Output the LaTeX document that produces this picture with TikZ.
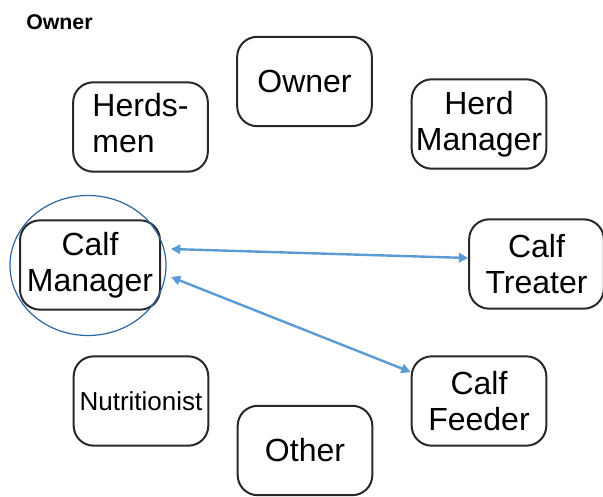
\documentclass[tikz,border=0pt]{standalone}
\usepackage{fontspec}
\setmainfont{Liberation Sans}
\usetikzlibrary{arrows.meta}
\definecolor{arrowblue}{RGB}{91,155,213}
\definecolor{ringblue}{RGB}{46,100,160}

\begin{document}
\begin{tikzpicture}[x=0.75pt,y=0.75pt,yscale=-1,xscale=1,
  role/.style={draw={rgb,255:red,40;green,40;blue,40},line width=1.5pt,rounded corners=15pt,
    minimum width=101pt,minimum height=67pt,inner sep=0.75pt,align=center,
    font=\fontsize{24}{27}\selectfont},
  link/.style={draw=arrowblue,line width=1.8pt,
    {Triangle[width=7pt,length=7pt]}-{Triangle[width=7pt,length=7pt]}}]
\useasboundingbox (0,0) rectangle (603,496);

% Text Node
\node (title) at (25,22) [anchor=west,inner sep=0.75pt,font=\fontsize{16}{18}\selectfont\bfseries] {Owner};

%Shape: Rounded Rect
\node (own) at (304.5,81.5) [role] {Owner};
%Shape: Rounded Rect
\node (hm) at (140.5,127) [role] {\begin{tabular}{@{}l@{}}Herds-\\men\end{tabular}};
%Shape: Rounded Rect
\node (hdm) at (479,124) [role] {Herd\\Manager};
%Shape: Rounded Rect
\node (cm) at (90,265) [role,minimum width=105pt] {Calf\\Manager};
%Shape: Rounded Rect
\node (ct) at (536.5,264) [role] {Calf\\Treater};
%Shape: Rounded Rect
\node (nut) at (141,401) [role,font=\fontsize{19.5}{22}\selectfont] {Nutritionist};
%Shape: Rounded Rect
\node (oth) at (305,450.5) [role] {Other};
%Shape: Rounded Rect
\node (cf) at (479,401) [role] {Calf\\Feeder};

%Shape: Ellipse
\draw [color=ringblue,line width=0.9pt] (88,265.5) ellipse [x radius=78,y radius=70];

%Straight Lines
\draw [link] ([xshift=7.5pt,yshift=-12pt]cm.east) -- ([yshift=-4.5pt]ct.west);
%Straight Lines
\draw [link] ([xshift=7.5pt,yshift=9pt]cm.east) -- ([yshift=12.5pt]cf.north west);
\end{tikzpicture}
\end{document}
